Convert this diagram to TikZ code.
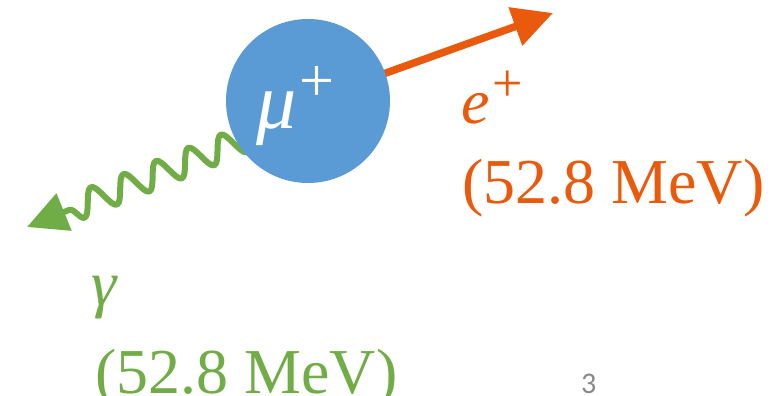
\documentclass[tikz,border=0pt]{standalone}
\usepackage{fontspec}
\setmainfont{Liberation Serif}
\newfontfamily\pagenumfont{Carlito}
\usetikzlibrary{arrows.meta,decorations.pathmorphing}
\definecolor{mublue}{HTML}{5B9BD5}
\definecolor{posorange}{HTML}{E95A0C}
\definecolor{gamgreen}{HTML}{70AD47}
\definecolor{numgray}{HTML}{898989}
\tikzset{
  bigtext/.style={inner sep=0pt, anchor=base west, font=\fontsize{64}{64}\selectfont},
  bighead/.style={-{Triangle[length=40pt,width=39pt]}},
}
\begin{document}
\begin{tikzpicture}[x=1pt,y=-1pt]
\useasboundingbox (0,0) rectangle (776,396);
% endpoints
\coordinate (etip) at (553,13);
\coordinate (gstart) at (252,136);
\coordinate (gtip) at (27,227);
% positron track
\draw[posorange, line width=7.5pt, bighead] (308,101) -- (etip);
% photon
\draw[gamgreen, line width=6pt, line join=round, bighead,
  decorate, decoration={snake, segment length=35pt, amplitude=13pt, post length=40pt}]
  (gstart) -- (gtip);
% muon
\node[circle, fill=mublue, minimum size=164pt, inner sep=0pt] (mu) at (308,101) {};
\node[inner sep=0pt, anchor=base west, text=white] (mulabel) at (256,128)
  {\fontsize{80}{80}\selectfont\itshape μ\hspace{3pt}\raisebox{27pt}{\fontsize{62}{62}\selectfont\upshape +}};
% labels
\node[bigtext, text=posorange] (elabel) at (461,123)
  {\itshape e\hspace{3pt}\raisebox{22pt}{\fontsize{54}{54}\selectfont\upshape +}};
\node[bigtext, text=posorange] (eenergy) at (462,203) {(52.8 MeV)};
\node[bigtext, text=gamgreen] (glabel) at (91,305) {\itshape γ};
\node[bigtext, text=gamgreen] (genergy) at (95,393) {(52.8 MeV)};
\node[inner sep=0pt, anchor=base west, text=numgray] (pagenum) at (581,393)
  {\pagenumfont\fontsize{30}{30}\selectfont 3};
\end{tikzpicture}
\end{document}
